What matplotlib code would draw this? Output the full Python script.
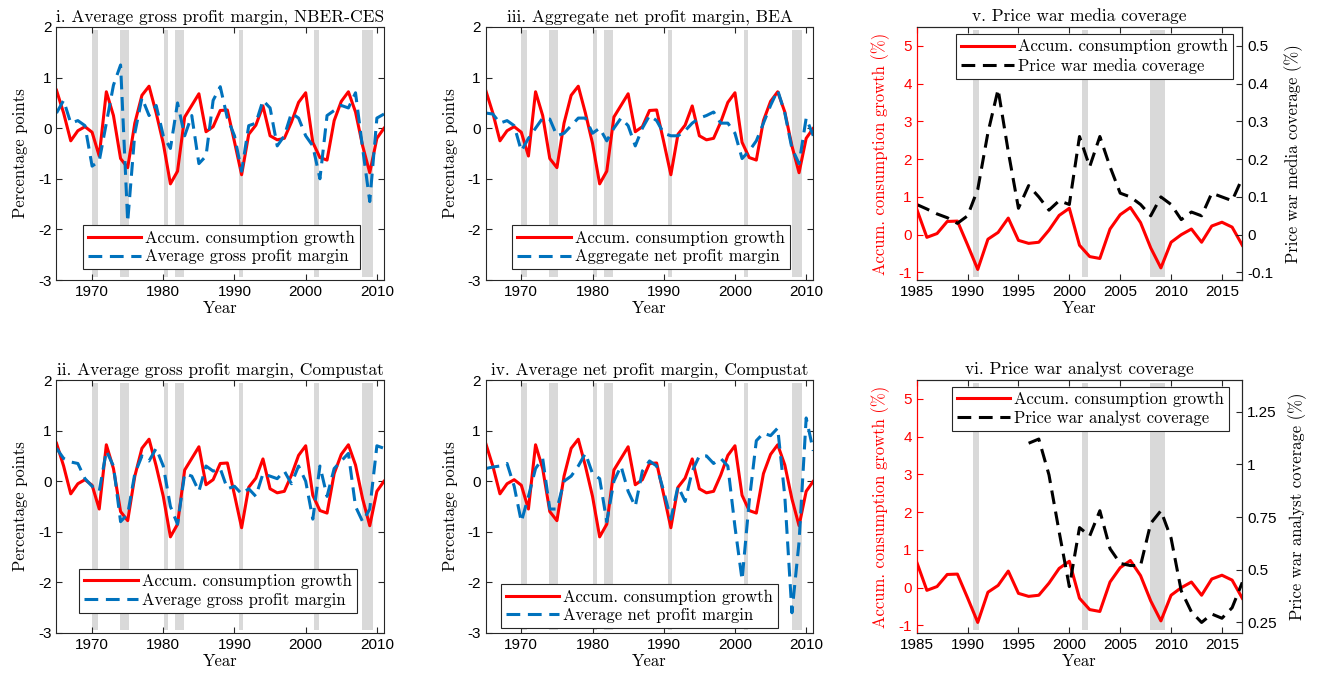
import numpy as np
import matplotlib
matplotlib.use("Agg")
import matplotlib.pyplot as plt

plt.rcParams['axes.unicode_minus'] = False

SERIF = ['cmr10', 'DejaVu Serif']
SANS = ['Liberation Sans', 'DejaVu Sans']
BLUE = '#0072BD'
GRAY = '#D9D9D9'
AXCOL = '#262626'

# accumulated consumption growth, 1965-2017
years = np.arange(1965, 2018)
cons = [0.75, 0.30, -0.25, -0.05, 0.03, -0.08, -0.55, 0.72, 0.25, -0.60,
        -0.78, 0.10, 0.65, 0.83, 0.30, -0.30, -1.10, -0.85, 0.22, 0.45,
        0.68, -0.07, 0.03, 0.35, 0.36, -0.27, -0.92, -0.12, 0.06, 0.44,
        -0.15, -0.23, -0.20, 0.12, 0.51, 0.70, -0.28, -0.58, -0.63, 0.15,
        0.53, 0.72, 0.32, -0.35, -0.88, -0.20, 0.00, 0.15, -0.20, 0.23,
        0.33, 0.20, -0.28]

# margins, 1965-2011
m_years = np.arange(1965, 2012)
gross_nber = [0.30, 0.55, 0.10, 0.15, 0.05, -0.75, -0.65, 0.10, 0.85, 1.25,
              -1.85, -0.10, 0.60, 0.25, 0.45, -0.15, -0.40, 0.50, -0.15, 0.25,
              -0.70, -0.55, 0.55, 0.82, 0.20, -0.15, -0.85, 0.05, 0.10, 0.55,
              0.40, -0.35, -0.15, 0.30, 0.20, -0.15, -0.35, -1.00, 0.25, 0.35,
              0.45, 0.40, 0.70, -0.40, -1.45, 0.20, 0.28]
net_bea = [0.30, 0.28, 0.10, 0.15, 0.05, -0.45, -0.20, 0.00, 0.20, 0.18,
           -0.15, -0.10, 0.05, 0.20, 0.20, -0.10, 0.00, -0.25, 0.00, 0.20,
           0.05, -0.35, 0.00, 0.25, 0.15, -0.10, -0.15, -0.15, -0.05, 0.10,
           0.20, 0.25, 0.32, 0.10, 0.10, -0.10, -0.60, -0.45, -0.25, 0.10,
           0.45, 0.75, 0.30, -0.40, -0.70, 0.20, -0.15]
gross_comp = [0.65, 0.45, 0.38, 0.35, 0.05, -0.10, -0.20, 0.60, 0.30, -0.80,
              -0.65, 0.15, 0.50, 0.40, 0.65, 0.30, -0.50, -0.85, 0.15, 0.10,
              -0.20, 0.30, 0.20, 0.25, -0.15, -0.10, -0.25, -0.15, -0.30, 0.15,
              0.10, 0.05, 0.20, -0.05, 0.30, 0.00, -0.75, 0.30, -0.30, 0.25,
              0.40, 0.55, -0.50, -0.80, -0.55, 0.70, 0.65]
net_comp = [0.25, 0.28, 0.30, 0.35, -0.10, -0.80, -0.30, 0.25, 0.45, -0.55,
            -0.55, 0.00, 0.10, 0.30, 0.55, 0.15, 0.05, -0.80, 0.00, 0.30,
            -0.20, -0.50, 0.20, 0.40, 0.30, -0.20, -0.75, -0.10, -0.40, 0.20,
            0.50, 0.50, 0.35, 0.45, 0.30, -0.90, -1.95, -0.40, 0.80, 0.95,
            0.90, 1.05, -0.30, -2.60, -1.20, 1.25, 0.60]

# price war coverage
media_years = np.arange(1985, 2018)
media = [0.080, 0.068, 0.055, 0.045, 0.030, 0.050, 0.120, 0.270, 0.385, 0.220,
         0.070, 0.130, 0.100, 0.065, 0.090, 0.080, 0.260, 0.180, 0.260, 0.180,
         0.110, 0.100, 0.080, 0.050, 0.100, 0.080, 0.040, 0.060, 0.050, 0.110,
         0.100, 0.090, 0.150]
analyst_years = np.arange(1996, 2018)
analyst = [1.10, 1.12, 0.95, 0.68, 0.42, 0.70, 0.66, 0.78, 0.60, 0.53,
           0.52, 0.52, 0.72, 0.78, 0.65, 0.40, 0.30, 0.25, 0.29, 0.27,
           0.32, 0.44]

recessions = [(1969.95, 1970.85), (1973.9, 1975.2), (1980.1, 1980.6),
              (1981.6, 1982.9), (1990.57, 1991.17), (2001.2, 2001.85),
              (2007.95, 2009.45)]

W, H = 1321, 683
fig = plt.figure(figsize=(W / 100, H / 100), dpi=100)


def px_axes(left, top, right, bottom):
    return fig.add_axes([left / W, 1 - bottom / H, (right - left) / W, (bottom - top) / H])


def shade(ax):
    for a, b in recessions:
        ax.axvspan(a, b, ymin=0.01, ymax=0.99, color=GRAY, lw=0, zorder=0)


def style(ax):
    for s in ax.spines.values():
        s.set_color(AXCOL)
        s.set_linewidth(0.8)
    ax.tick_params(direction='in', length=4, width=0.8, colors=AXCOL, labelsize=11)
    for lab in ax.get_xticklabels() + ax.get_yticklabels():
        lab.set_family(SANS)
        lab.set_color('black')


def legend(ax, handles, labels, loc, anchor):
    leg = ax.legend(handles, labels, loc=loc, bbox_to_anchor=anchor, borderaxespad=0,
                    prop={'family': SERIF, 'size': 12}, fancybox=False, framealpha=1,
                    edgecolor=AXCOL, handlelength=3.2, handletextpad=0.25,
                    labelspacing=0.2, borderpad=0.3)
    leg.get_frame().set_linewidth(0.8)


def margin_panel(rect, title, series, label, anchor):
    ax = px_axes(*rect)
    shade(ax)
    l1, = ax.plot(years, cons, color='red', lw=2.2)
    l2, = ax.plot(m_years, series, color=BLUE, lw=2.2, dashes=(4.5, 2.5))
    ax.set_xlim(1965, 2011)
    ax.set_ylim(-3, 2)
    ax.set_xticks([1970, 1980, 1990, 2000, 2010])
    ax.set_yticks([-3, -2, -1, 0, 1, 2])
    ax.tick_params(top=True, right=True)
    style(ax)
    ax.set_title(title, family=SERIF, fontsize=12.5, pad=4)
    ax.set_xlabel('Year', family=SERIF, fontsize=12, labelpad=1)
    ax.set_ylabel('Percentage points', family=SERIF, fontsize=12, labelpad=7)
    legend(ax, [l1, l2], ['Accum. consumption growth', label], 'lower left', anchor)


def coverage_panel(rect, title, xs, ys, label, rlim, rticks, anchor):
    ax = px_axes(*rect)
    shade(ax)
    l1, = ax.plot(years, cons, color='red', lw=2.2)
    ax.set_xlim(1985, 2017)
    ax.set_ylim(-1.2, 5.5)
    ax.set_xticks(np.arange(1985, 2016, 5))
    ax.set_yticks(np.arange(-1, 6))
    ax.tick_params(top=True)
    ax2 = ax.twinx()
    l2, = ax2.plot(xs, ys, color='black', lw=2.2, dashes=(4.5, 2.5))
    ax2.set_ylim(*rlim)
    ax2.set_yticks(rticks)
    ax2.set_yticklabels(['%g' % t for t in rticks])
    style(ax)
    style(ax2)
    ax.spines['left'].set_color('red')
    ax2.spines['left'].set_color('red')
    ax.tick_params(axis='y', colors='red')
    for lab in ax.get_yticklabels():
        lab.set_color('red')
    ax.set_title(title, family=SERIF, fontsize=12.5, pad=4)
    ax.set_xlabel('Year', family=SERIF, fontsize=12, labelpad=1)
    ax.set_ylabel('Accum. consumption growth (%)', family=SERIF, fontsize=12,
                  color='red', labelpad=6)
    ax2.set_ylabel(label + ' (%)', family=SERIF, fontsize=12, labelpad=8)
    legend(ax2, [l1, l2], ['Accum. consumption growth', label], 'upper left', anchor)


margin_panel((56.5, 27, 384, 280), 'i. Average gross profit margin, NBER-CES',
             gross_nber, 'Average gross profit margin', (0.08, 0.042))
margin_panel((485.7, 27, 813.3, 280), 'iii. Aggregate net profit margin, BEA',
             net_bea, 'Aggregate net profit margin', (0.081, 0.042))
margin_panel((56.5, 380, 384, 633), 'ii. Average gross profit margin, Compustat',
             gross_comp, 'Average gross profit margin', (0.07, 0.08))
margin_panel((485.7, 380, 813.3, 633), 'iv. Average net profit margin, Compustat',
             net_comp, 'Average net profit margin', (0.046, 0.019))
coverage_panel((916.7, 27, 1242.3, 280), 'v. Price war media coverage',
               media_years, media, 'Price war media coverage', (-0.12, 0.55),
               [-0.1, 0, 0.1, 0.2, 0.3, 0.4, 0.5], (0.12, 0.972))
coverage_panel((916.7, 380, 1242.3, 633), 'vi. Price war analyst coverage',
               analyst_years, analyst, 'Price war analyst coverage', (0.2, 1.4),
               [0.25, 0.5, 0.75, 1, 1.25], (0.107, 0.974))

fig.savefig('out.png', dpi=100)
